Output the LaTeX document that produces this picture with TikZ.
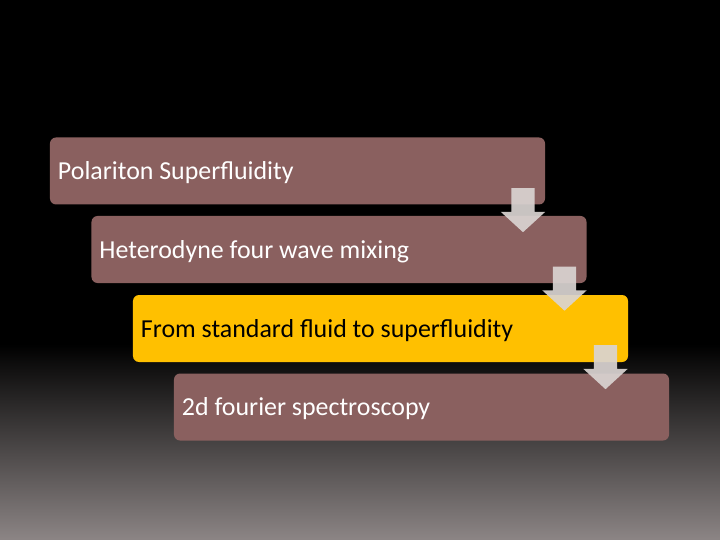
\documentclass[tikz,border=0pt]{standalone}
\usepackage{fontspec}
\setmainfont{Carlito}
\usetikzlibrary{shapes.arrows}

\definecolor{stepbrown}{RGB}{138,96,95}
\definecolor{stepyellow}{RGB}{255,192,0}
\definecolor{arrowgray}{RGB}{218,212,210}
\definecolor{floorgray}{RGB}{140,133,133}

\tikzset{
  stepbox/.style={shape=rectangle,rounded corners=6bp,minimum width=495bp,minimum height=67bp,
    text width=479bp,align=flush left,inner sep=0pt,text depth=0pt,font=\fontsize{26}{30}\selectfont},
  downarrow/.style={shape=single arrow,shape border rotate=270,fill=arrowgray,fill opacity=0.92,
    inner sep=11.5bp,minimum height=44bp,single arrow head extend=10.5bp,single arrow tip angle=95,anchor=tail}
}

\begin{document}
\begin{tikzpicture}[x=1bp,y=-1bp]
\useasboundingbox (0,0) rectangle (720,540);
\fill[black] (0,0) rectangle (720,345);
\shade[top color=black,bottom color=floorgray] (0,344) rectangle (720,540);

\node[stepbox,fill=stepbrown,text=white] (0) at (297.5,171) {Polariton Superfluidity};
\node[stepbox,fill=stepbrown,text=white] (1) at (339,249.5) {Heterodyne four wave mixing};
\node[stepbox,fill=stepyellow,text=black] (2) at (380.5,328.5) {From standard fluid to superfluidity};
\node[stepbox,fill=stepbrown,text=white] (3) at (421.5,407) {2d fourier spectroscopy};

\node[downarrow] (a0) at (523,188) {};
\node[downarrow] (a1) at (564.5,266.5) {};
\node[downarrow] (a2) at (605.5,345) {};
\end{tikzpicture}
\end{document}
